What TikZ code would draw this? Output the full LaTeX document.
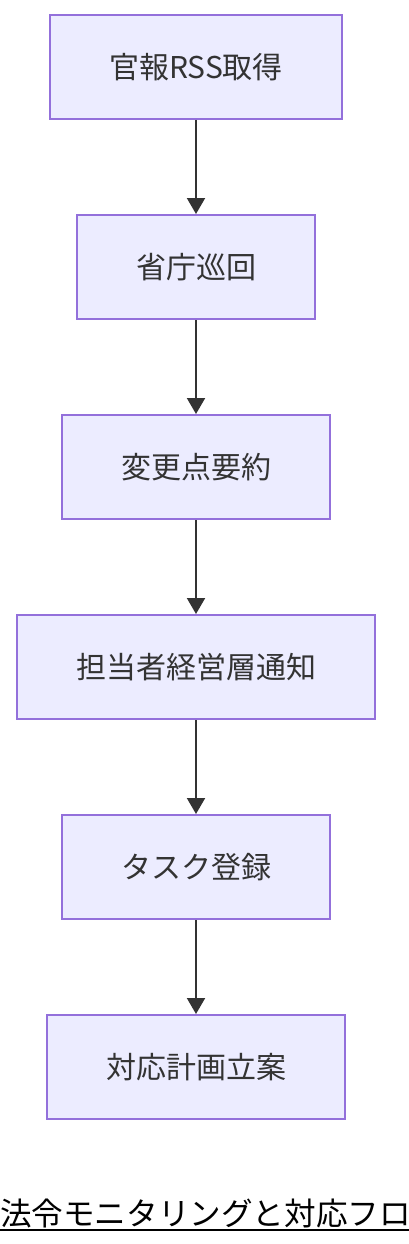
\documentclass[tikz,border=0pt]{standalone}
\usepackage{fontspec}
\setmainfont{Noto Sans CJK JP}
\usetikzlibrary{arrows.meta}
\definecolor{boxfill}{HTML}{ECECFF}
\definecolor{boxline}{HTML}{9370DB}
\definecolor{ink}{HTML}{333333}
\tikzset{
  stepbox/.style={draw=boxline, fill=boxfill, line width=2pt, text=ink,
    font=\fontsize{30pt}{34pt}\selectfont, inner xsep=59pt, inner ysep=0pt,
    minimum height=104pt},
  flow/.style={draw=ink, line width=2pt, -{Triangle[length=16pt,width=18pt]}}
}
\begin{document}
\begin{tikzpicture}[x=1pt, y=-1pt]
\useasboundingbox (0,0) rectangle (408,1244);

\foreach \i/\t in {1/官報RSS取得, 2/省庁巡回, 3/変更点要約, 4/担当者経営層通知, 5/タスク登録, 6/対応計画立案}{
\node [stepbox] (s\i) at (196, {67+200*(\i-1)}) {\t};
}
\foreach \i [evaluate=\i as \j using int(\i+1)] in {1,...,5}{\draw [flow] (s\i) -- (s\j);}

\node [anchor=base west, inner sep=0pt, font=\fontsize{31.6pt}{34pt}\selectfont] (title) at (0, 1225) {法令モニタリングと対応フロー};
\draw [line width=2pt] ([yshift=-5pt]title.base west) -- ([yshift=-5pt]title.base east);
\end{tikzpicture}
\end{document}
